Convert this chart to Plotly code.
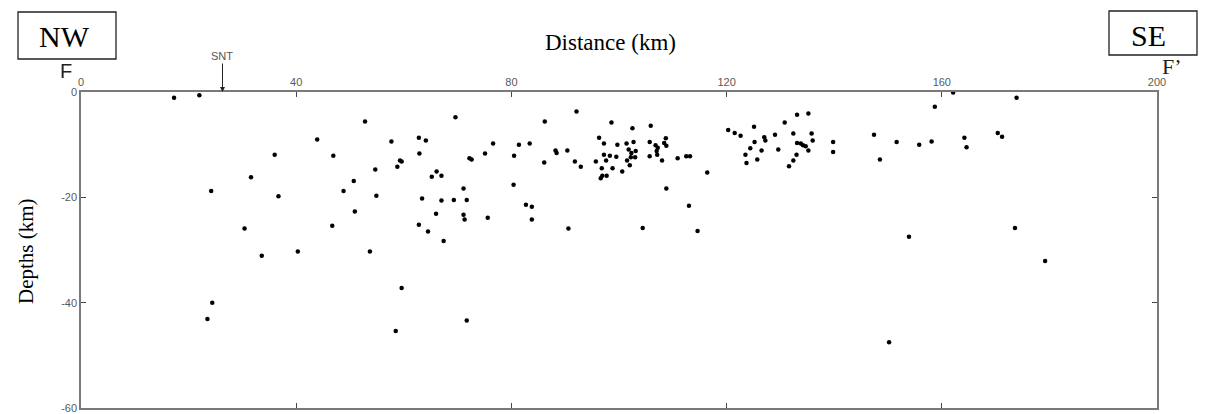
import plotly.graph_objects as go

# Hypocentre cross-section F-F' (NW -> SE)
distance_km = [
    17.3, 22.0, 43.9, 36.0, 46.9, 31.6, 24.2, 36.7, 48.8, 30.4, 46.7, 33.6, 40.3, 24.4, 23.5,
    52.8, 69.6, 57.7, 62.8, 64.1, 62.9, 59.3, 59.6, 58.8, 54.7, 50.7, 54.9, 50.9, 53.7,
    66.1, 65.2, 67.0, 72.2, 72.6, 75.1, 76.6, 71.1, 63.4, 67.0, 69.3, 71.7, 66.0, 71.1,
    71.3, 75.6, 62.8, 64.5, 67.4, 59.6, 58.5, 71.7,
    80.5, 81.4, 83.4, 80.4, 82.7, 83.8, 83.8, 86.2, 92.1, 86.1, 88.2, 88.4, 90.4, 91.8,
    92.9, 90.6, 95.7, 96.3, 97.2, 98.6, 97.2, 98.3, 99.5, 99.7, 97.6, 96.8, 98.8, 96.9,
    96.6, 97.7,
    102.5, 101.4, 102.7, 100.6, 101.5, 101.8, 102.3, 103.1, 102.2, 103.0, 102.0, 105.9,
    120.3, 105.7, 108.7, 108.4, 108.8, 106.8, 107.2, 107.0, 107.1, 105.7, 108.0, 110.9,
    112.5, 113.2, 116.4, 108.8, 113.0, 104.4, 114.6,
    121.5, 122.6, 125.1, 130.8, 133.1, 135.2, 125.2, 127.0, 127.2, 129.0, 124.4, 126.5,
    123.5, 123.7, 125.7, 129.6, 132.4, 133.1, 133.8, 134.2, 134.7, 135.8, 136.0, 135.2,
    133.0, 132.4, 131.6, 139.8, 139.8,
    147.4, 148.5, 151.6, 155.8, 158.1, 162.1, 173.9, 158.7, 164.2, 164.6, 170.4, 171.2,
    153.9, 173.6, 179.2, 150.2,
]
depth_km = [
    -1.1, -0.6, -9.0, -11.9, -12.1, -16.2, -18.8, -19.8, -18.8, -25.9, -25.4, -31.1, -30.3, -40.0, -43.1,
    -5.6, -4.8, -9.4, -8.7, -9.2, -11.7, -13.0, -13.2, -14.2, -14.7, -16.9, -19.7, -22.7, -30.3,
    -15.1, -16.1, -15.9, -12.6, -12.8, -11.7, -9.8, -18.3, -20.2, -20.6, -20.5, -20.5, -23.1, -23.3,
    -24.2, -23.9, -25.2, -26.5, -28.3, -37.2, -45.4, -43.4,
    -12.1, -10.0, -9.8, -17.6, -21.4, -21.8, -24.2, -5.6, -3.7, -13.4, -11.1, -11.6, -11.1, -13.2,
    -14.2, -25.9, -13.2, -8.7, -9.8, -5.8, -11.9, -12.1, -12.3, -10.0, -13.0, -14.5, -14.5, -15.9,
    -16.4, -15.9,
    -6.9, -9.8, -9.5, -15.1, -13.0, -10.9, -11.6, -11.2, -12.4, -12.4, -13.9, -6.4,
    -7.2, -9.5, -8.8, -9.7, -10.2, -10.1, -10.6, -11.2, -11.9, -12.2, -13.0, -12.6,
    -12.2, -12.2, -15.3, -18.3, -21.6, -25.8, -26.4,
    -7.8, -8.3, -6.6, -5.8, -4.3, -4.1, -9.5, -8.6, -9.2, -8.1, -10.7, -11.1,
    -11.9, -13.5, -12.8, -10.9, -7.9, -9.7, -9.8, -10.1, -10.3, -7.9, -9.2, -11.1,
    -11.9, -13.0, -14.1, -9.5, -11.4,
    -8.1, -12.8, -9.5, -10.0, -9.4, -0.1, -1.1, -2.8, -8.7, -10.5, -7.8, -8.5,
    -27.5, -25.8, -32.1, -47.5,
]

x_ticks = [0, 40, 80, 120, 160, 200]
y_ticks = [0, -20, -40, -60]
snt_km = 26.3

AXIS_GREY = "#7a7a7a"
TICK_FONT = dict(family="Liberation Sans, Arial", size=11, color="#5a5a5a")
SERIF = "Liberation Serif, Times New Roman"

W, H = 1206, 414
M_L, M_R, M_T, M_B = 81, 49, 92, 6
PLOT_W = W - M_L - M_R
PLOT_H = H - M_T - M_B


def page_to_paper(px, py):
    """Convert page pixel position to plot-area paper coordinates."""
    return (px - M_L) / PLOT_W, (H - M_B - py) / PLOT_H


fig = go.Figure()
fig.add_trace(go.Scatter(
    x=distance_km, y=depth_km, mode="markers",
    marker=dict(color="black", size=4.5, symbol="circle"),
    hoverinfo="x+y", showlegend=False, cliponaxis=False,
))

axis_common = dict(
    showgrid=False, zeroline=False, showline=True, linecolor=AXIS_GREY, linewidth=1.5,
    mirror="ticks", ticks="inside", ticklen=5, tickwidth=1, tickcolor="#444",
    tickfont=TICK_FONT, automargin=False,
)
fig.update_xaxes(range=[0, 200], tickvals=x_ticks, ticktext=[str(v) for v in x_ticks],
                 side="top", **axis_common)
fig.update_yaxes(range=[-60, 0], tickvals=y_ticks, ticktext=[str(v) for v in y_ticks],
                 **axis_common)

labels = [
    dict(text="Distance (km)", x=610, y=42,
         font=dict(family=SERIF, size=23, color="black")),
    dict(text="Depths (km)", x=26, y=251, textangle=-90,
         font=dict(family=SERIF, size=21, color="black")),
    dict(text="NW", x=64, y=37, font=dict(family=SERIF, size=30, color="black")),
    dict(text="SE", x=1148, y=36, font=dict(family=SERIF, size=30, color="black")),
    dict(text="F", x=66, y=71, font=dict(family="Liberation Sans, Arial", size=20, color="#222")),
    dict(text="F\u2019", x=1172, y=66, font=dict(family=SERIF, size=22, color="#222")),
]
layout_ann = []
for a in labels:
    fx, fy = page_to_paper(a.pop("x"), a.pop("y"))
    layout_ann.append(dict(a, x=fx, y=fy, xref="paper", yref="paper",
                           xanchor="center", yanchor="middle", showarrow=False))

# SNT marker arrow pointing to the surface
layout_ann.append(dict(
    text="SNT", x=snt_km, y=0, xref="x", yref="y", showarrow=True,
    ax=0, ay=-36, arrowhead=2, arrowsize=1, arrowwidth=1, arrowcolor="#222",
    standoff=0, font=dict(family="Liberation Sans, Arial", size=11, color="#555"),
))


def box(x0, y0, x1, y1):
    a0, b0 = page_to_paper(x0, y1)
    a1, b1 = page_to_paper(x1, y0)
    return dict(type="rect", xref="paper", yref="paper", x0=a0, x1=a1, y0=b0, y1=b1,
                line=dict(color="#222", width=1.3), fillcolor="rgba(0,0,0,0)")


shapes = [box(18, 12, 116, 59), box(1109, 11, 1197, 55)]

fig.update_layout(
    width=W, height=H,
    margin=dict(l=M_L, r=M_R, t=M_T, b=M_B),
    paper_bgcolor="white", plot_bgcolor="white",
    annotations=layout_ann, shapes=shapes,
)

fig.write_html("out.html")
